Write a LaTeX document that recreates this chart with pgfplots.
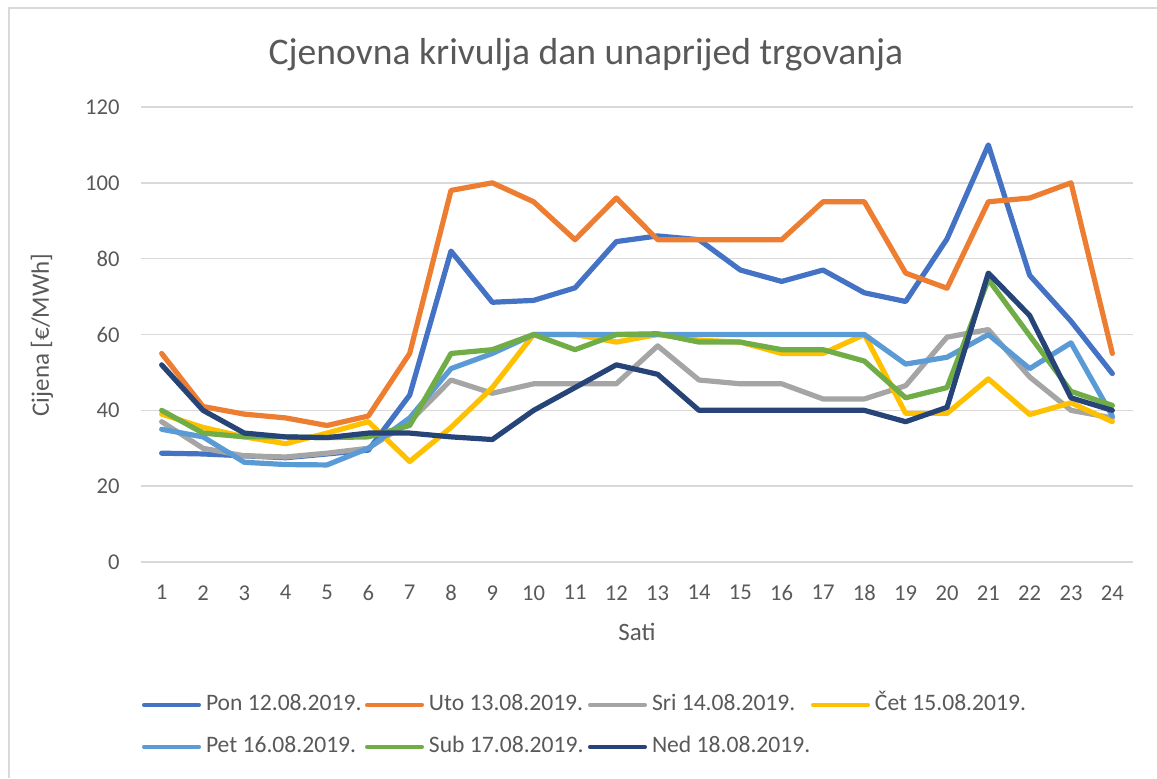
\documentclass[border=0pt]{standalone}
\usepackage{pgfplots}
\pgfplotsset{compat=1.18}
\usepackage{fontspec}
\setmainfont{Carlito}
\definecolor{cPon}{HTML}{4472C4}
\definecolor{cUto}{HTML}{ED7D31}
\definecolor{cSri}{HTML}{A5A5A5}
\definecolor{cCet}{HTML}{FFC000}
\definecolor{cPet}{HTML}{5B9BD5}
\definecolor{cSub}{HTML}{70AD47}
\definecolor{cNed}{HTML}{264478}
\definecolor{gridc}{HTML}{D9D9D9}
\definecolor{txt}{HTML}{595959}
\newcommand{\legtxt}[1]{\makebox[79.5pt][l]{\rule[-2.5pt]{0pt}{12.5pt}#1}}
\begin{document}
\begin{tikzpicture}
\path[use as bounding box] (0,0) rectangle (578.5pt,389pt);
\draw[gridc, line width=0.75pt] (4.5pt,0) -- (4.5pt,385pt) -- (578.5pt,385pt);
\node[text=txt, font=\fontsize{18.8pt}{22pt}\selectfont] at (293pt,361.5pt) {Cjenovna krivulja dan unaprijed trgovanja};
\node[text=txt, font=\fontsize{12.5pt}{15pt}\selectfont] at (318.5pt,73pt) {Sati};
\node[text=txt, font=\fontsize{12.5pt}{15pt}\selectfont, rotate=90] at (21pt,221.5pt) {Cijena [€/MWh]};
\begin{axis}[
  at={(70.5pt,108pt)}, anchor=south west,
  scale only axis, width=496pt, height=227.5pt,
  xmin=0.5, xmax=24.5, ymin=0, ymax=120,
  xtick={1,...,24}, ytick={0,20,...,120},
  axis line style={draw=none}, major tick style={draw=none},
  ymajorgrids, grid style={gridc, line width=0.75pt},
  /pgf/number format/assume math mode=true,
  ticklabel style={text=txt, font=\fontsize{11.3pt}{13pt}\selectfont},
  yticklabel style={anchor=east, inner sep=0pt, xshift=-10.5pt},
  xticklabel style={anchor=north, inner sep=0pt, yshift=-11.5pt},
  every axis plot/.append style={line width=2.6pt, line join=round, line cap=round},
  legend columns=4,
  legend cell align=left,
  legend image code/.code={\draw[#1, line width=2pt] (0pt,-1.4pt) -- (27.5pt,-1.4pt);},
  legend style={at={(axis description cs:0.001,-0.2824)}, anchor=north west,
    draw=none, fill=none, inner sep=0pt, outer sep=0pt,
    nodes={inner sep=0pt}, row sep=9.5pt,
    /tikz/every odd column/.append style={column sep=2.5pt},
    font=\fontsize{11.8pt}{14pt}\selectfont, text=txt},
]
\addplot[cPon] coordinates {(1,28.7)(2,28.5)(3,28)(4,27.5)(5,28.5)(6,29.5)(7,44)(8,82)(9,68.5)(10,69)(11,72.3)(12,84.5)(13,86)(14,85)(15,77)(16,74)(17,77)(18,71)(19,68.7)(20,85.2)(21,110)(22,75.6)(23,63.5)(24,49.7)};
\addlegendentry{\legtxt{Pon 12.08.2019.}}
\addplot[cUto] coordinates {(1,55)(2,41)(3,39)(4,38)(5,36)(6,38.5)(7,55)(8,98)(9,100)(10,95)(11,85)(12,96)(13,85)(14,85)(15,85)(16,85)(17,95)(18,95)(19,76.2)(20,72.2)(21,95)(22,96)(23,100)(24,55)};
\addlegendentry{\legtxt{Uto 13.08.2019.}}
\addplot[cSri] coordinates {(1,37)(2,30)(3,28)(4,27.7)(5,28.7)(6,30)(7,37)(8,48)(9,44.5)(10,47)(11,47)(12,47)(13,57)(14,48)(15,47)(16,47)(17,43)(18,43)(19,46.5)(20,59.3)(21,61.3)(22,48.8)(23,40)(24,38)};
\addlegendentry{\legtxt{Sri 14.08.2019.}}
\addplot[cCet] coordinates {(1,39)(2,35.5)(3,33)(4,31.2)(5,34)(6,37)(7,26.5)(8,35.5)(9,46)(10,60)(11,60)(12,58)(13,60)(14,58.5)(15,58)(16,55)(17,55)(18,60)(19,39.2)(20,39.2)(21,48.3)(22,38.9)(23,42)(24,37)};
\addlegendentry{\legtxt{Čet 15.08.2019.}}
\addplot[cPet] coordinates {(1,35)(2,33)(3,26.3)(4,25.7)(5,25.6)(6,30)(7,38)(8,51)(9,55)(10,60)(11,60)(12,60)(13,60)(14,60)(15,60)(16,60)(17,60)(18,60)(19,52.2)(20,54)(21,60)(22,51)(23,57.8)(24,38.5)};
\addlegendentry{\legtxt{Pet 16.08.2019.}}
\addplot[cSub] coordinates {(1,40)(2,34)(3,33)(4,33)(5,32.8)(6,33)(7,36)(8,55)(9,56)(10,60)(11,56)(12,60)(13,60.2)(14,58)(15,58)(16,56)(17,56)(18,53)(19,43.3)(20,46)(21,74.5)(22,59.7)(23,45)(24,41.3)};
\addlegendentry{\legtxt{Sub 17.08.2019.}}
\addplot[cNed] coordinates {(1,52)(2,40)(3,34)(4,33)(5,32.8)(6,34)(7,34)(8,33)(9,32.3)(10,40)(11,46)(12,52)(13,49.5)(14,40)(15,40)(16,40)(17,40)(18,40)(19,37)(20,40.8)(21,76.2)(22,65)(23,43.3)(24,40)};
\addlegendentry{\legtxt{Ned 18.08.2019.}}
\end{axis}
\end{tikzpicture}
\end{document}
